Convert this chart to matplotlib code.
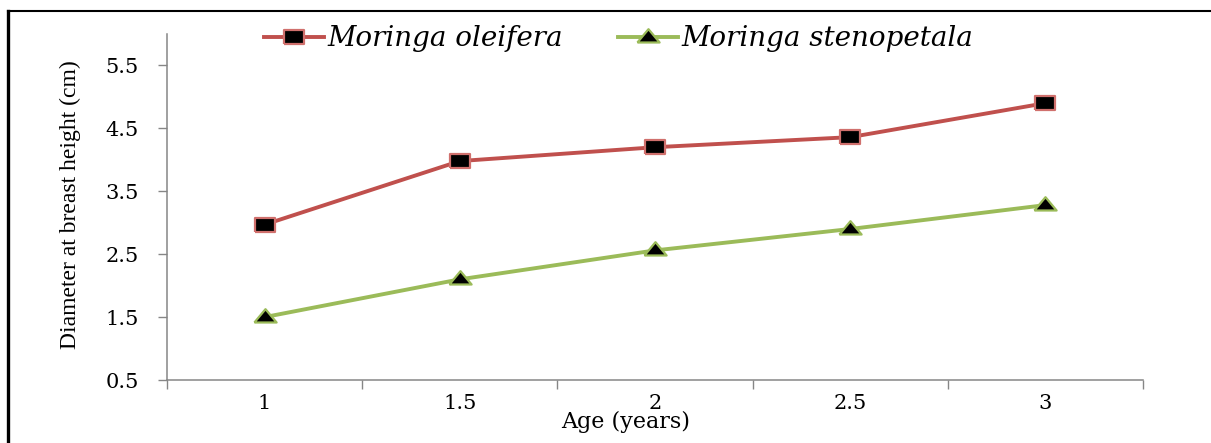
import numpy as np
import matplotlib
matplotlib.use("Agg")
from matplotlib import pyplot as plt
from matplotlib.lines import Line2D

# tree age classes and mean diameter at breast height (cm)
ages = ["1", "1.5", "2", "2.5", "3"]
oleifera = [2.97, 3.98, 4.20, 4.36, 4.90]
stenopetala = [1.50, 2.10, 2.56, 2.90, 3.28]
yticks = [0.5, 1.5, 2.5, 3.5, 4.5, 5.5]

red = "#C0504D"
red_edge = "#D0706D"
green = "#9BBB59"
axis_grey = "#868686"

# wide box / flat triangle markers
box = [(-1.6, -1.0), (1.6, -1.0), (1.6, 1.0), (-1.6, 1.0), (-1.6, -1.0)]
tri = [(-1.0, -0.45), (1.0, -0.45), (0.0, 0.75), (-1.0, -0.45)]


def main():
    fig = plt.figure(figsize=(12.11, 4.43), dpi=100)
    ax = fig.add_axes([0.1379, 0.1422, 0.8059, 0.7811])

    x = np.arange(1, len(ages) + 1)
    ax.plot(x, oleifera, color=red, lw=2.8, marker=box, markersize=15,
            markerfacecolor="black", markeredgecolor=red_edge, markeredgewidth=1.6,
            label="Moringa oleifera", zorder=3)
    ax.plot(x, stenopetala, color=green, lw=2.8, marker=tri, markersize=16,
            markerfacecolor="black", markeredgecolor=green, markeredgewidth=1.6,
            label="Moringa stenopetala", zorder=3)

    ax.set_xlim(0.5, len(ages) + 0.5)
    ax.set_ylim(0.5, 6.0)

    # ticks sit between categories, labels at the centres
    ax.set_xticks(np.arange(0.5, len(ages) + 1, 1.0))
    ax.set_xticklabels([])
    ax.set_xticks(x, minor=True)
    ax.set_xticklabels(ages, minor=True)
    ax.tick_params(axis="x", which="major", direction="out", length=6.5,
                   width=1.0, color=axis_grey)
    ax.tick_params(axis="x", which="minor", length=0, pad=10)
    ax.set_yticks(yticks)
    ax.set_yticklabels([f"{v:.1f}" for v in yticks])
    ax.tick_params(axis="y", direction="out", length=6.5, width=1.0,
                   color=axis_grey, pad=14)
    for lab in ax.get_xticklabels(minor=True) + ax.get_yticklabels():
        lab.set_fontfamily("DejaVu Serif")
        lab.set_fontsize(15)

    for side in ("top", "right"):
        ax.spines[side].set_visible(False)
    for side in ("left", "bottom"):
        ax.spines[side].set_color(axis_grey)
        ax.spines[side].set_linewidth(1.1)

    ax.set_xlabel("Age (years)", fontfamily="DejaVu Serif", fontsize=16)
    ax.xaxis.set_label_coords(0.470, -0.090)
    ax.set_ylabel("Diameter at breast height (cm)", fontfamily="Liberation Serif",
                  fontsize=17)
    ax.yaxis.set_label_coords(-0.088, 0.506)

    fig.legend(loc="center", bbox_to_anchor=(0.511, 0.912), ncol=2, frameon=False,
               prop={"family": "DejaVu Serif", "style": "italic", "size": 20},
               handlelength=2.15, handletextpad=0.12, columnspacing=2.0,
               numpoints=1)

    # page frame lines
    fig.add_artist(Line2D([0.0066, 1.0], [0.9752, 0.9752], color="black", lw=1.5,
                          transform=fig.transFigure))
    fig.add_artist(Line2D([0.0070, 0.0070], [0.0, 0.9760], color="black", lw=2.4,
                          transform=fig.transFigure))

    plt.savefig("out.png", dpi=100)
    plt.close()


if __name__ == "__main__":
    main()
